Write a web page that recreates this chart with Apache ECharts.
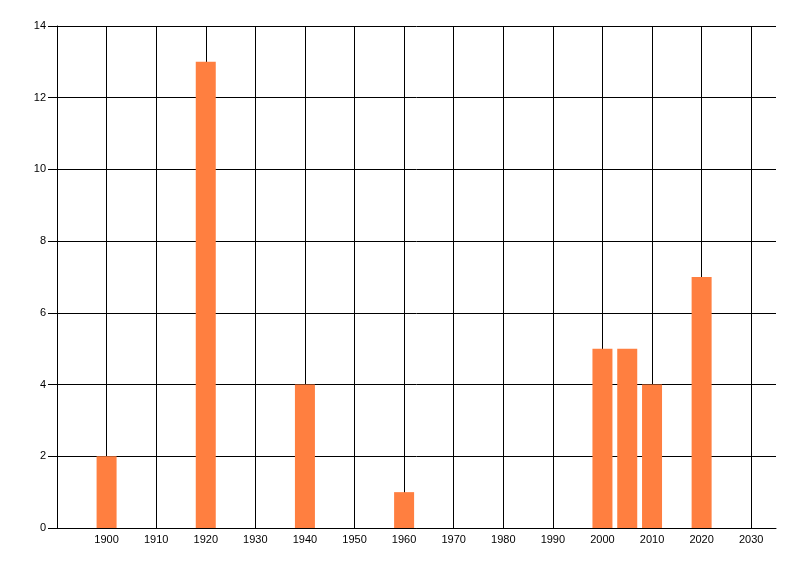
<!DOCTYPE html>
<html>
<head>
<meta charset="utf-8">
<script src="https://cdn.jsdelivr.net/npm/echarts@6/dist/echarts.min.js"></script>
<style>
  html, body { margin: 0; padding: 0; background: #fff; }
  #chart { width: 800px; height: 576px; }
</style>
</head>
<body>
<div id="chart"></div>
<script>
// years and counts
const years = [1900, 1920, 1940, 1960, 2000, 2005, 2010, 2020]
const counts = [2, 13, 4, 1, 5, 5, 4, 7]
const xMin = 1890, xMax = 2035, xStep = 10
const yMin = 0, yMax = 14, yStep = 2

const chart = echarts.init(document.getElementById('chart'), null, { renderer: 'canvas' })

const lbl = { color: '#000', fontFamily: 'Liberation Sans', fontSize: 11 }

chart.setOption({
  animation: false,
  grid: { left: 57, right: 24, top: 26, bottom: 48, containLabel: false },
  xAxis: {
    type: 'value',
    min: xMin, max: xMax, interval: xStep,
    axisLine: { show: true, onZero: false, lineStyle: { color: '#000', width: 1 } },
    axisTick: { show: false },
    axisLabel: Object.assign({}, lbl, {
      margin: 6,
      showMinLabel: false,
      showMaxLabel: false,
      formatter: v => (v % 10 === 0 && v > xMin && v < xMax) ? String(v) : ''
    }),
    splitLine: { show: true, showMinLine: false, showMaxLine: false, lineStyle: { color: '#000', width: 1 } }
  },
  yAxis: {
    type: 'value',
    min: yMin, max: yMax, interval: yStep,
    axisLine: { show: true, lineStyle: { color: '#000', width: 1 } },
    axisTick: { show: true, length: 9, lineStyle: { color: '#000' } },
    axisLabel: Object.assign({}, lbl, { margin: 11 }),
    splitLine: { show: true, lineStyle: { color: '#000', width: 1 } }
  },
  series: [{
    type: 'bar',
    barWidth: 20,
    itemStyle: { color: '#ff7f40' },
    data: years.map((y, i) => [y, counts[i]])
  }]
})
</script>
</body>
</html>
